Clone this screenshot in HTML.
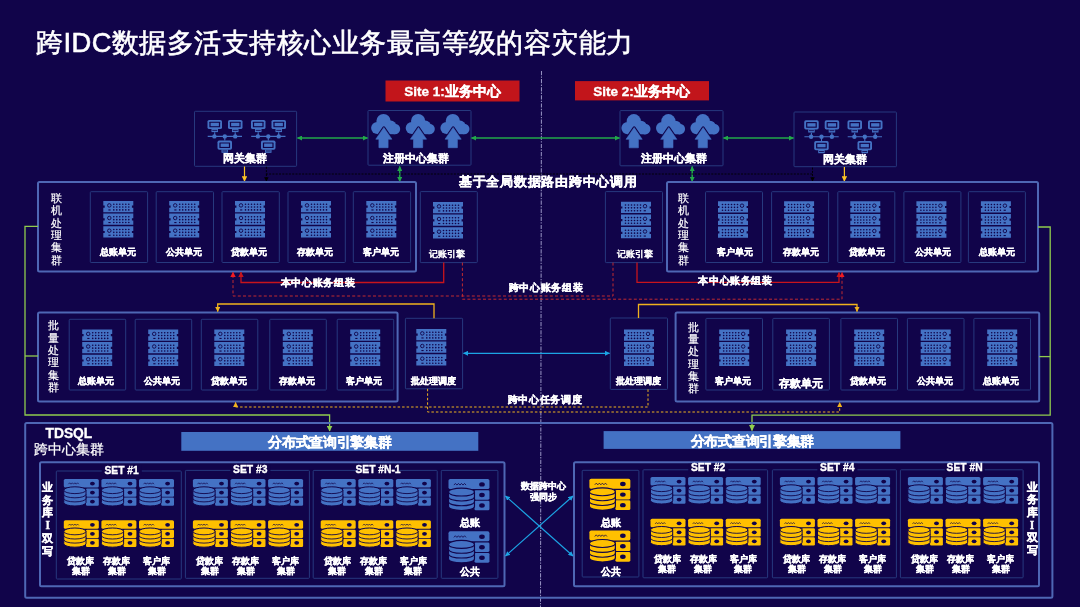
<!DOCTYPE html>
<html><head><meta charset="utf-8"><style>
html,body{margin:0;padding:0;background:#11044a;width:1080px;height:607px;overflow:hidden}
div.w{position:absolute;left:0;top:0;will-change:transform}
svg{display:block;font-family:"Liberation Sans",sans-serif}
</style></head><body><div class="w">
<svg width="1080" height="607" viewBox="0 0 1080 607"><defs><g id="srv"><g transform="translate(0,0)"><path d="M0 0H30V4.6H28.6V6.8H30V11.2H0V6.8H1.4V4.6H0Z" fill="#4472c4"/><circle cx="6" cy="4.4" r="1.75" fill="none" stroke="#11044a" stroke-width="0.9"/><rect x="5.1" y="8.4" width="2.2" height="1.1" fill="#11044a"/><circle cx="10.50" cy="3.20" r="0.8" fill="#11044a"/><circle cx="10.50" cy="6.05" r="0.8" fill="#11044a"/><circle cx="10.50" cy="8.90" r="0.8" fill="#11044a"/><circle cx="13.50" cy="3.20" r="0.8" fill="#11044a"/><circle cx="13.50" cy="6.05" r="0.8" fill="#11044a"/><circle cx="13.50" cy="8.90" r="0.8" fill="#11044a"/><circle cx="16.50" cy="3.20" r="0.8" fill="#11044a"/><circle cx="16.50" cy="6.05" r="0.8" fill="#11044a"/><circle cx="16.50" cy="8.90" r="0.8" fill="#11044a"/><circle cx="19.50" cy="3.20" r="0.8" fill="#11044a"/><circle cx="19.50" cy="6.05" r="0.8" fill="#11044a"/><circle cx="19.50" cy="8.90" r="0.8" fill="#11044a"/><circle cx="22.50" cy="3.20" r="0.8" fill="#11044a"/><circle cx="22.50" cy="6.05" r="0.8" fill="#11044a"/><circle cx="22.50" cy="8.90" r="0.8" fill="#11044a"/><circle cx="25.50" cy="3.20" r="0.8" fill="#11044a"/><circle cx="25.50" cy="6.05" r="0.8" fill="#11044a"/><circle cx="25.50" cy="8.90" r="0.8" fill="#11044a"/></g><g transform="translate(0,12.6)"><path d="M0 0H30V4.6H28.6V6.8H30V11.2H0V6.8H1.4V4.6H0Z" fill="#4472c4"/><circle cx="6" cy="4.4" r="1.75" fill="none" stroke="#11044a" stroke-width="0.9"/><rect x="5.1" y="8.4" width="2.2" height="1.1" fill="#11044a"/><circle cx="10.50" cy="3.20" r="0.8" fill="#11044a"/><circle cx="10.50" cy="6.05" r="0.8" fill="#11044a"/><circle cx="10.50" cy="8.90" r="0.8" fill="#11044a"/><circle cx="13.50" cy="3.20" r="0.8" fill="#11044a"/><circle cx="13.50" cy="6.05" r="0.8" fill="#11044a"/><circle cx="13.50" cy="8.90" r="0.8" fill="#11044a"/><circle cx="16.50" cy="3.20" r="0.8" fill="#11044a"/><circle cx="16.50" cy="6.05" r="0.8" fill="#11044a"/><circle cx="16.50" cy="8.90" r="0.8" fill="#11044a"/><circle cx="19.50" cy="3.20" r="0.8" fill="#11044a"/><circle cx="19.50" cy="6.05" r="0.8" fill="#11044a"/><circle cx="19.50" cy="8.90" r="0.8" fill="#11044a"/><circle cx="22.50" cy="3.20" r="0.8" fill="#11044a"/><circle cx="22.50" cy="6.05" r="0.8" fill="#11044a"/><circle cx="22.50" cy="8.90" r="0.8" fill="#11044a"/><circle cx="25.50" cy="3.20" r="0.8" fill="#11044a"/><circle cx="25.50" cy="6.05" r="0.8" fill="#11044a"/><circle cx="25.50" cy="8.90" r="0.8" fill="#11044a"/></g><g transform="translate(0,25.3)"><path d="M0 0H30V4.6H28.6V6.8H30V11.2H0V6.8H1.4V4.6H0Z" fill="#4472c4"/><circle cx="6" cy="4.4" r="1.75" fill="none" stroke="#11044a" stroke-width="0.9"/><rect x="5.1" y="8.4" width="2.2" height="1.1" fill="#11044a"/><circle cx="10.50" cy="3.20" r="0.8" fill="#11044a"/><circle cx="10.50" cy="6.05" r="0.8" fill="#11044a"/><circle cx="10.50" cy="8.90" r="0.8" fill="#11044a"/><circle cx="13.50" cy="3.20" r="0.8" fill="#11044a"/><circle cx="13.50" cy="6.05" r="0.8" fill="#11044a"/><circle cx="13.50" cy="8.90" r="0.8" fill="#11044a"/><circle cx="16.50" cy="3.20" r="0.8" fill="#11044a"/><circle cx="16.50" cy="6.05" r="0.8" fill="#11044a"/><circle cx="16.50" cy="8.90" r="0.8" fill="#11044a"/><circle cx="19.50" cy="3.20" r="0.8" fill="#11044a"/><circle cx="19.50" cy="6.05" r="0.8" fill="#11044a"/><circle cx="19.50" cy="8.90" r="0.8" fill="#11044a"/><circle cx="22.50" cy="3.20" r="0.8" fill="#11044a"/><circle cx="22.50" cy="6.05" r="0.8" fill="#11044a"/><circle cx="22.50" cy="8.90" r="0.8" fill="#11044a"/><circle cx="25.50" cy="3.20" r="0.8" fill="#11044a"/><circle cx="25.50" cy="6.05" r="0.8" fill="#11044a"/><circle cx="25.50" cy="8.90" r="0.8" fill="#11044a"/></g></g><g id="dbb"><rect x="0" y="0" width="35" height="8.6" rx="1.6" fill="#4472c4"/><rect x="22.2" y="9.6" width="12.8" height="8.1" rx="1.2" fill="#4472c4"/><rect x="22.2" y="18.5" width="12.8" height="8.3" rx="1.2" fill="#4472c4"/><ellipse cx="28.6" cy="4.6" rx="2.4" ry="1.9" fill="#11044a"/><ellipse cx="28.6" cy="13.6" rx="2.4" ry="1.9" fill="#11044a"/><ellipse cx="28.6" cy="22.6" rx="2.4" ry="1.9" fill="#11044a"/><path d="M4.6 5.2l1.3-1.4 1.3 1.4 1.3-1.4 1.3 1.4 1.3-1.4 1.3 1.4 1.3-1.4 1.3 1.4" fill="none" stroke="#11044a" stroke-width="0.7"/><path d="M0 11.2A11.1 3.4 0 0 1 22.2 11.2V23.6A11.1 3.4 0 0 1 0 23.6Z" fill="#4472c4" stroke="#11044a" stroke-width="1"/><path d="M0 11.2A11.1 3.4 0 0 0 22.2 11.2M0 15.4A11.1 3.4 0 0 0 22.2 15.4M0 19.5A11.1 3.4 0 0 0 22.2 19.5" fill="none" stroke="#11044a" stroke-width="0.9"/></g><g id="dby"><rect x="0" y="0" width="35" height="8.6" rx="1.6" fill="#ffc000"/><rect x="22.2" y="9.6" width="12.8" height="8.1" rx="1.2" fill="#ffc000"/><rect x="22.2" y="18.5" width="12.8" height="8.3" rx="1.2" fill="#ffc000"/><ellipse cx="28.6" cy="4.6" rx="2.4" ry="1.9" fill="#11044a"/><ellipse cx="28.6" cy="13.6" rx="2.4" ry="1.9" fill="#11044a"/><ellipse cx="28.6" cy="22.6" rx="2.4" ry="1.9" fill="#11044a"/><path d="M4.6 5.2l1.3-1.4 1.3 1.4 1.3-1.4 1.3 1.4 1.3-1.4 1.3 1.4 1.3-1.4 1.3 1.4" fill="none" stroke="#11044a" stroke-width="0.7"/><path d="M0 11.2A11.1 3.4 0 0 1 22.2 11.2V23.6A11.1 3.4 0 0 1 0 23.6Z" fill="#ffc000" stroke="#11044a" stroke-width="1"/><path d="M0 11.2A11.1 3.4 0 0 0 22.2 11.2M0 15.4A11.1 3.4 0 0 0 22.2 15.4M0 19.5A11.1 3.4 0 0 0 22.2 19.5" fill="none" stroke="#11044a" stroke-width="0.9"/></g><g id="cloud"><circle cx="12.6" cy="7.2" r="7.1" fill="#4472c4"/><circle cx="6.3" cy="14.1" r="6.1" fill="#4472c4"/><circle cx="19.8" cy="12.3" r="5.6" fill="#4472c4"/><circle cx="24" cy="15.1" r="5.3" fill="#4472c4"/><rect x="6.3" y="11" width="17.7" height="9.3" fill="#4472c4"/><path d="M12.95 13.6L21 25.3H17.2V33.8H8V25.3H4.9Z" fill="#4472c4" stroke="#11044a" stroke-width="2.6" stroke-linejoin="round"/><path d="M12.95 13.6L21 25.3H17.2V33.8H8V25.3H4.9Z" fill="#4472c4" stroke="#4472c4" stroke-width="0.6" stroke-linejoin="round"/></g><g id="mon"><rect x="0" y="0" width="14.5" height="9.2" rx="1.7" fill="#4472c4"/><rect x="1.9" y="1.8" width="10.7" height="5.6" rx="0.5" fill="#11044a"/><rect x="3.1" y="2.9" width="8.3" height="3.4" fill="#4472c4"/><rect x="4" y="9" width="6.5" height="3.2" fill="#4472c4"/><rect x="4.8" y="10" width="4.9" height="0.8" fill="#11044a"/></g><g id="net"><use href="#mon" x="0" y="0"/><use href="#mon" x="20.5" y="0"/><use href="#mon" x="10" y="20.7"/><path d="M0.2 16.5H34.5M7.2 12.4V16.5M27.7 12.4V16.5M17.3 16.5V20.7" stroke="#4472c4" stroke-width="1.1"/><circle cx="6.9" cy="16.5" r="2.2" fill="#4472c4"/><circle cx="17.3" cy="16.5" r="2.2" fill="#4472c4"/><circle cx="27.7" cy="16.5" r="2.2" fill="#4472c4"/></g><marker id="mg" viewBox="0 0 10 10" refX="9" refY="5" markerWidth="5" markerHeight="5" markerUnits="userSpaceOnUse" orient="auto-start-reverse"><path d="M0 0L10 5L0 10Z" fill="#22a84a"/></marker><marker id="mr" viewBox="0 0 10 10" refX="9" refY="5" markerWidth="5.5" markerHeight="5.5" markerUnits="userSpaceOnUse" orient="auto-start-reverse"><path d="M0 0L10 5L0 10Z" fill="#c8141c"/></marker><marker id="mrd" viewBox="0 0 10 10" refX="9" refY="5" markerWidth="5.5" markerHeight="5.5" markerUnits="userSpaceOnUse" orient="auto-start-reverse"><path d="M0 0L10 5L0 10Z" fill="#f01c22"/></marker><marker id="my" viewBox="0 0 10 10" refX="9" refY="5" markerWidth="5.5" markerHeight="5.5" markerUnits="userSpaceOnUse" orient="auto-start-reverse"><path d="M0 0L10 5L0 10Z" fill="#f0b21e"/></marker><marker id="my2" viewBox="0 0 10 10" refX="9" refY="5" markerWidth="5.5" markerHeight="5.5" markerUnits="userSpaceOnUse" orient="auto-start-reverse"><path d="M0 0L10 5L0 10Z" fill="#fcc424"/></marker><marker id="mc" viewBox="0 0 10 10" refX="9" refY="5" markerWidth="5" markerHeight="5" markerUnits="userSpaceOnUse" orient="auto-start-reverse"><path d="M0 0L10 5L0 10Z" fill="#1ca4e4"/></marker><marker id="ml" viewBox="0 0 10 10" refX="9" refY="5" markerWidth="6" markerHeight="6" markerUnits="userSpaceOnUse" orient="auto-start-reverse"><path d="M0 0L10 5L0 10Z" fill="#90cc4e"/></marker><marker id="mk" viewBox="0 0 10 10" refX="9" refY="5" markerWidth="4.5" markerHeight="4.5" markerUnits="userSpaceOnUse" orient="auto-start-reverse"><path d="M0 0L10 5L0 10Z" fill="#000000"/></marker></defs>
<rect x="0" y="0" width="1080" height="607" fill="#11044a"/>
<text x="36" y="51.7" font-size="27.3" font-weight="normal" fill="#fff" text-anchor="start" stroke="#fff" stroke-width="0.6" letter-spacing="0.47">跨IDC数据多活支持核心业务最高等级的容灾能力</text>
<line x1="541.5" y1="71" x2="540.5" y2="607" stroke="#9490c0" stroke-width="1.05" stroke-dasharray="4.2 1.2 1.4 1.3"/>
<rect x="385.5" y="80.5" width="134" height="21" fill="#c2151b"/>
<rect x="575" y="81.1" width="134" height="19.3" fill="#c2151b"/>
<text x="452.5" y="96" font-size="13.5" font-weight="bold" fill="#fff" text-anchor="middle" stroke="#fff" stroke-width="0.35" >Site 1:业务中心</text>
<text x="641.5" y="95.5" font-size="13.5" font-weight="bold" fill="#fff" text-anchor="middle" stroke="#fff" stroke-width="0.35" >Site 2:业务中心</text>
<rect x="194.5" y="111.3" width="102.10" height="55.00" rx="0.8" fill="none" stroke="#27397e" stroke-width="1"/>
<rect x="368" y="110.5" width="103.00" height="54.70" rx="0.8" fill="none" stroke="#27397e" stroke-width="1"/>
<rect x="620" y="110.6" width="103.00" height="55.20" rx="0.8" fill="none" stroke="#27397e" stroke-width="1"/>
<rect x="794" y="112" width="102.40" height="54.70" rx="0.8" fill="none" stroke="#27397e" stroke-width="1"/>
<use href="#net" x="207.5" y="119.9"/><use href="#net" x="251" y="119.9"/>
<use href="#net" x="804.2" y="120.3"/><use href="#net" x="847.5" y="120.3"/>
<use href="#cloud" x="370.9" y="113.9"/>
<use href="#cloud" x="405.5" y="113.9"/>
<use href="#cloud" x="440.2" y="113.9"/>
<use href="#cloud" x="621.2" y="114"/>
<use href="#cloud" x="655.8" y="114"/>
<use href="#cloud" x="690.2" y="114"/>
<text x="244.8" y="162.3" font-size="10.6" font-weight="bold" fill="#fff" text-anchor="middle" stroke="#fff" stroke-width="0.35" >网关集群</text>
<text x="415.5" y="162.3" font-size="10.6" font-weight="bold" fill="#fff" text-anchor="middle" stroke="#fff" stroke-width="0.35" >注册中心集群</text>
<text x="674" y="162.3" font-size="10.6" font-weight="bold" fill="#fff" text-anchor="middle" stroke="#fff" stroke-width="0.35" >注册中心集群</text>
<text x="844.7" y="162.5" font-size="10.6" font-weight="bold" fill="#fff" text-anchor="middle" stroke="#fff" stroke-width="0.35" >网关集群</text>
<line x1="297.5" y1="138" x2="367.5" y2="138" stroke="#22a84a" stroke-width="1.5" marker-start="url(#mg)" marker-end="url(#mg)"/>
<line x1="471.5" y1="138" x2="619.5" y2="138" stroke="#22a84a" stroke-width="1.5" marker-start="url(#mg)" marker-end="url(#mg)"/>
<line x1="723.5" y1="138" x2="793.5" y2="138" stroke="#22a84a" stroke-width="1.5" marker-start="url(#mg)" marker-end="url(#mg)"/>
<line x1="399.7" y1="166.5" x2="399.7" y2="181.5" stroke="#22a84a" stroke-width="1.5" marker-start="url(#mg)" marker-end="url(#mg)"/>
<line x1="692.2" y1="166.5" x2="692.2" y2="181.5" stroke="#22a84a" stroke-width="1.5" marker-start="url(#mg)" marker-end="url(#mg)"/>
<path d="M266.4 166.8V174H812.5V167" fill="none" stroke="#000" stroke-width="0.9" stroke-dasharray="2 1.3"/>
<line x1="266.4" y1="174" x2="266.4" y2="181.3" stroke="#000" stroke-width="0.9" stroke-dasharray="2 1.3" marker-end="url(#mk)"/>
<line x1="812.5" y1="174" x2="812.5" y2="181.3" stroke="#000" stroke-width="0.9" stroke-dasharray="2 1.3" marker-end="url(#mk)"/>
<line x1="244.5" y1="166.5" x2="244.5" y2="181.2" stroke="#fcc424" stroke-width="1.2" marker-end="url(#my2)"/>
<line x1="844.4" y1="167" x2="844.4" y2="181.2" stroke="#fcc424" stroke-width="1.2" marker-end="url(#my2)"/>
<text x="548.3" y="185.6" font-size="13.4" font-weight="bold" fill="#fff" text-anchor="middle" stroke="#fff" stroke-width="0.35" letter-spacing="0.77">基于全局数据路由跨中心调用</text>
<rect x="38" y="182" width="378.00" height="89.50" rx="1.5" fill="none" stroke="#4e67b4" stroke-width="2"/>
<rect x="667" y="182" width="371.00" height="89.40" rx="1.5" fill="none" stroke="#4e67b4" stroke-width="2"/>
<text x="56" y="202.0" font-size="10.5" font-weight="normal" fill="#fff" text-anchor="middle" stroke="#fff" stroke-width="0.2" >联</text>
<text x="56" y="214.3" font-size="10.5" font-weight="normal" fill="#fff" text-anchor="middle" stroke="#fff" stroke-width="0.2" >机</text>
<text x="56" y="226.6" font-size="10.5" font-weight="normal" fill="#fff" text-anchor="middle" stroke="#fff" stroke-width="0.2" >处</text>
<text x="56" y="238.9" font-size="10.5" font-weight="normal" fill="#fff" text-anchor="middle" stroke="#fff" stroke-width="0.2" >理</text>
<text x="56" y="251.2" font-size="10.5" font-weight="normal" fill="#fff" text-anchor="middle" stroke="#fff" stroke-width="0.2" >集</text>
<text x="56" y="263.5" font-size="10.5" font-weight="normal" fill="#fff" text-anchor="middle" stroke="#fff" stroke-width="0.2" >群</text>
<text x="683.3" y="202.0" font-size="10.5" font-weight="normal" fill="#fff" text-anchor="middle" stroke="#fff" stroke-width="0.2" >联</text>
<text x="683.3" y="214.3" font-size="10.5" font-weight="normal" fill="#fff" text-anchor="middle" stroke="#fff" stroke-width="0.2" >机</text>
<text x="683.3" y="226.6" font-size="10.5" font-weight="normal" fill="#fff" text-anchor="middle" stroke="#fff" stroke-width="0.2" >处</text>
<text x="683.3" y="238.9" font-size="10.5" font-weight="normal" fill="#fff" text-anchor="middle" stroke="#fff" stroke-width="0.2" >理</text>
<text x="683.3" y="251.2" font-size="10.5" font-weight="normal" fill="#fff" text-anchor="middle" stroke="#fff" stroke-width="0.2" >集</text>
<text x="683.3" y="263.5" font-size="10.5" font-weight="normal" fill="#fff" text-anchor="middle" stroke="#fff" stroke-width="0.2" >群</text>
<rect x="90.3" y="191.7" width="57.30" height="70.80" rx="0.8" fill="none" stroke="#27397e" stroke-width="1"/>
<use href="#srv" x="103.3" y="201"/>
<text x="117.69999999999999" y="255.2" font-size="9.3" font-weight="bold" fill="#fff" text-anchor="middle" stroke="#fff" stroke-width="0.35" >总账单元</text>
<rect x="156.2" y="191.7" width="57.30" height="70.80" rx="0.8" fill="none" stroke="#27397e" stroke-width="1"/>
<use href="#srv" x="169.2" y="201"/>
<text x="183.6" y="255.2" font-size="9.3" font-weight="bold" fill="#fff" text-anchor="middle" stroke="#fff" stroke-width="0.35" >公共单元</text>
<rect x="222" y="191.7" width="57.30" height="70.80" rx="0.8" fill="none" stroke="#27397e" stroke-width="1"/>
<use href="#srv" x="235" y="201"/>
<text x="249.4" y="255.2" font-size="9.3" font-weight="bold" fill="#fff" text-anchor="middle" stroke="#fff" stroke-width="0.35" >贷款单元</text>
<rect x="288" y="191.7" width="57.30" height="70.80" rx="0.8" fill="none" stroke="#27397e" stroke-width="1"/>
<use href="#srv" x="301" y="201"/>
<text x="315.4" y="255.2" font-size="9.3" font-weight="bold" fill="#fff" text-anchor="middle" stroke="#fff" stroke-width="0.35" >存款单元</text>
<rect x="353.3" y="191.7" width="57.30" height="70.80" rx="0.8" fill="none" stroke="#27397e" stroke-width="1"/>
<use href="#srv" x="366.3" y="201"/>
<text x="380.7" y="255.2" font-size="9.3" font-weight="bold" fill="#fff" text-anchor="middle" stroke="#fff" stroke-width="0.35" >客户单元</text>
<rect x="705.5" y="191.7" width="57.00" height="70.80" rx="0.8" fill="none" stroke="#27397e" stroke-width="1"/>
<use href="#srv" transform="translate(748.0,201.3) scale(-1,1)"/>
<text x="734.5" y="255.2" font-size="9.3" font-weight="bold" fill="#fff" text-anchor="middle" stroke="#fff" stroke-width="0.35" >客户单元</text>
<rect x="771.6" y="191.7" width="57.00" height="70.80" rx="0.8" fill="none" stroke="#27397e" stroke-width="1"/>
<use href="#srv" transform="translate(814.1,201.3) scale(-1,1)"/>
<text x="800.6" y="255.2" font-size="9.3" font-weight="bold" fill="#fff" text-anchor="middle" stroke="#fff" stroke-width="0.35" >存款单元</text>
<rect x="837.8" y="191.7" width="57.00" height="70.80" rx="0.8" fill="none" stroke="#27397e" stroke-width="1"/>
<use href="#srv" transform="translate(880.3,201.3) scale(-1,1)"/>
<text x="866.8" y="255.2" font-size="9.3" font-weight="bold" fill="#fff" text-anchor="middle" stroke="#fff" stroke-width="0.35" >贷款单元</text>
<rect x="903.9" y="191.7" width="57.00" height="70.80" rx="0.8" fill="none" stroke="#27397e" stroke-width="1"/>
<use href="#srv" transform="translate(946.4,201.3) scale(-1,1)"/>
<text x="932.9" y="255.2" font-size="9.3" font-weight="bold" fill="#fff" text-anchor="middle" stroke="#fff" stroke-width="0.35" >公共单元</text>
<rect x="968.4" y="191.7" width="57.00" height="70.80" rx="0.8" fill="none" stroke="#27397e" stroke-width="1"/>
<use href="#srv" transform="translate(1010.9,201.3) scale(-1,1)"/>
<text x="997.4" y="255.2" font-size="9.3" font-weight="bold" fill="#fff" text-anchor="middle" stroke="#fff" stroke-width="0.35" >总账单元</text>
<rect x="420.3" y="191.6" width="57.00" height="71.00" rx="0.8" fill="none" stroke="#27397e" stroke-width="1"/>
<use href="#srv" x="433" y="202"/>
<text x="446.6" y="257.1" font-size="9.3" font-weight="normal" fill="#fff" text-anchor="middle" stroke="#fff" stroke-width="0.5" >记账引擎</text>
<rect x="605.4" y="191.6" width="57.10" height="71.00" rx="0.8" fill="none" stroke="#27397e" stroke-width="1"/>
<use href="#srv" transform="translate(651,201.8) scale(-1,1)"/>
<text x="635" y="256.6" font-size="9.3" font-weight="normal" fill="#fff" text-anchor="middle" stroke="#fff" stroke-width="0.5" >记账引擎</text>
<path d="M443.7 262.6V282.5H241V272.2" fill="none" stroke="#c8141c" stroke-width="1.3" marker-end="url(#mr)"/>
<path d="M637 262.6V282.3H839V272.5" fill="none" stroke="#c8141c" stroke-width="1.3" marker-end="url(#mr)"/>
<path d="M462.4 262.6V299.2H842V272.5" fill="none" stroke="#c02a30" stroke-width="1" stroke-dasharray="3 2.2" marker-end="url(#mrd)"/>
<path d="M613 262.6V296H233V272.2" fill="none" stroke="#c02a30" stroke-width="1" stroke-dasharray="3 2.2" marker-end="url(#mrd)"/>
<text x="318" y="285.8" font-size="10.4" font-weight="bold" fill="#fff" text-anchor="middle" stroke="#fff" stroke-width="0.35" letter-spacing="0.65">本中心账务组装</text>
<text x="735.5" y="283.8" font-size="10.4" font-weight="bold" fill="#fff" text-anchor="middle" stroke="#fff" stroke-width="0.35" letter-spacing="0.65">本中心账务组装</text>
<text x="546" y="290.8" font-size="10.4" font-weight="bold" fill="#fff" text-anchor="middle" stroke="#fff" stroke-width="0.35" letter-spacing="0.65">跨中心账务组装</text>
<rect x="38" y="312.6" width="359.60" height="88.90" rx="1.5" fill="none" stroke="#4e67b4" stroke-width="2"/>
<rect x="675.6" y="312.6" width="363.60" height="89.00" rx="1.5" fill="none" stroke="#4e67b4" stroke-width="2"/>
<text x="53" y="329.3" font-size="10.5" font-weight="normal" fill="#fff" text-anchor="middle" stroke="#fff" stroke-width="0.2" >批</text>
<text x="53" y="341.6" font-size="10.5" font-weight="normal" fill="#fff" text-anchor="middle" stroke="#fff" stroke-width="0.2" >量</text>
<text x="53" y="353.90000000000003" font-size="10.5" font-weight="normal" fill="#fff" text-anchor="middle" stroke="#fff" stroke-width="0.2" >处</text>
<text x="53" y="366.20000000000005" font-size="10.5" font-weight="normal" fill="#fff" text-anchor="middle" stroke="#fff" stroke-width="0.2" >理</text>
<text x="53" y="378.5" font-size="10.5" font-weight="normal" fill="#fff" text-anchor="middle" stroke="#fff" stroke-width="0.2" >集</text>
<text x="53" y="390.8" font-size="10.5" font-weight="normal" fill="#fff" text-anchor="middle" stroke="#fff" stroke-width="0.2" >群</text>
<text x="693.8" y="330.8" font-size="10.5" font-weight="normal" fill="#fff" text-anchor="middle" stroke="#fff" stroke-width="0.2" >批</text>
<text x="693.8" y="343.1" font-size="10.5" font-weight="normal" fill="#fff" text-anchor="middle" stroke="#fff" stroke-width="0.2" >量</text>
<text x="693.8" y="355.40000000000003" font-size="10.5" font-weight="normal" fill="#fff" text-anchor="middle" stroke="#fff" stroke-width="0.2" >处</text>
<text x="693.8" y="367.70000000000005" font-size="10.5" font-weight="normal" fill="#fff" text-anchor="middle" stroke="#fff" stroke-width="0.2" >理</text>
<text x="693.8" y="380.0" font-size="10.5" font-weight="normal" fill="#fff" text-anchor="middle" stroke="#fff" stroke-width="0.2" >集</text>
<text x="693.8" y="392.3" font-size="10.5" font-weight="normal" fill="#fff" text-anchor="middle" stroke="#fff" stroke-width="0.2" >群</text>
<rect x="69.2" y="319.3" width="56.50" height="70.70" rx="0.8" fill="none" stroke="#27397e" stroke-width="1"/>
<use href="#srv" x="82.2" y="329.5"/>
<text x="96.4" y="384.3" font-size="9.3" font-weight="bold" fill="#fff" text-anchor="middle" stroke="#fff" stroke-width="0.35" >总账单元</text>
<rect x="135.2" y="319.3" width="56.50" height="70.70" rx="0.8" fill="none" stroke="#27397e" stroke-width="1"/>
<use href="#srv" x="148.2" y="329.5"/>
<text x="162.39999999999998" y="384.3" font-size="9.3" font-weight="bold" fill="#fff" text-anchor="middle" stroke="#fff" stroke-width="0.35" >公共单元</text>
<rect x="201.3" y="319.3" width="56.50" height="70.70" rx="0.8" fill="none" stroke="#27397e" stroke-width="1"/>
<use href="#srv" x="214.3" y="329.5"/>
<text x="228.5" y="384.3" font-size="9.3" font-weight="bold" fill="#fff" text-anchor="middle" stroke="#fff" stroke-width="0.35" >贷款单元</text>
<rect x="269.8" y="319.3" width="56.50" height="70.70" rx="0.8" fill="none" stroke="#27397e" stroke-width="1"/>
<use href="#srv" x="282.8" y="329.5"/>
<text x="297.0" y="384.3" font-size="9.3" font-weight="bold" fill="#fff" text-anchor="middle" stroke="#fff" stroke-width="0.35" >存款单元</text>
<rect x="337.2" y="319.3" width="56.50" height="70.70" rx="0.8" fill="none" stroke="#27397e" stroke-width="1"/>
<use href="#srv" x="350.2" y="329.5"/>
<text x="364.4" y="384.3" font-size="9.3" font-weight="bold" fill="#fff" text-anchor="middle" stroke="#fff" stroke-width="0.35" >客户单元</text>
<rect x="705.9" y="318.4" width="56.60" height="71.60" rx="0.8" fill="none" stroke="#27397e" stroke-width="1"/>
<use href="#srv" transform="translate(749.1999999999999,329.5) scale(-1,1)"/>
<text x="733.1999999999999" y="384.3" font-size="9.3" font-weight="bold" fill="#fff" text-anchor="middle" stroke="#fff" stroke-width="0.35" >客户单元</text>
<rect x="772.8" y="318.4" width="56.60" height="71.60" rx="0.8" fill="none" stroke="#27397e" stroke-width="1"/>
<use href="#srv" transform="translate(816.0999999999999,329.5) scale(-1,1)"/>
<text x="800.5999999999999" y="386.8" font-size="10.6" font-weight="bold" fill="#fff" text-anchor="middle" stroke="#fff" stroke-width="0.35" >存款单元</text>
<rect x="840.9" y="318.4" width="56.60" height="71.60" rx="0.8" fill="none" stroke="#27397e" stroke-width="1"/>
<use href="#srv" transform="translate(884.1999999999999,329.5) scale(-1,1)"/>
<text x="868.1999999999999" y="384.3" font-size="9.3" font-weight="bold" fill="#fff" text-anchor="middle" stroke="#fff" stroke-width="0.35" >贷款单元</text>
<rect x="907.4" y="318.4" width="56.60" height="71.60" rx="0.8" fill="none" stroke="#27397e" stroke-width="1"/>
<use href="#srv" transform="translate(950.6999999999999,329.5) scale(-1,1)"/>
<text x="934.6999999999999" y="384.3" font-size="9.3" font-weight="bold" fill="#fff" text-anchor="middle" stroke="#fff" stroke-width="0.35" >公共单元</text>
<rect x="973.9" y="318.4" width="56.60" height="71.60" rx="0.8" fill="none" stroke="#27397e" stroke-width="1"/>
<use href="#srv" transform="translate(1017.1999999999999,329.5) scale(-1,1)"/>
<text x="1001.1999999999999" y="384.3" font-size="9.3" font-weight="bold" fill="#fff" text-anchor="middle" stroke="#fff" stroke-width="0.35" >总账单元</text>
<rect x="405.4" y="318.3" width="57.20" height="70.50" rx="0.8" fill="none" stroke="#27397e" stroke-width="1"/>
<use href="#srv" x="416.3" y="329"/>
<text x="433" y="384" font-size="9.3" font-weight="bold" fill="#fff" text-anchor="middle" stroke="#fff" stroke-width="0.35" >批处理调度</text>
<rect x="610.3" y="318" width="57.20" height="71.40" rx="0.8" fill="none" stroke="#27397e" stroke-width="1"/>
<use href="#srv" transform="translate(654,329.5) scale(-1,1)"/>
<text x="638" y="384.3" font-size="9.3" font-weight="bold" fill="#fff" text-anchor="middle" stroke="#fff" stroke-width="0.35" >批处理调度</text>
<line x1="463.5" y1="353.3" x2="609.5" y2="353.3" stroke="#1ca4e4" stroke-width="1.2" marker-start="url(#mc)" marker-end="url(#mc)"/>
<path d="M434 318.3V304H217.7V311.5" fill="none" stroke="#f0b21e" stroke-width="1.3" marker-end="url(#my)"/>
<path d="M638.5 318V304.5H857V311.5" fill="none" stroke="#f0b21e" stroke-width="1.3" marker-end="url(#my)"/>
<path d="M427.6 388.8V412H839.7V402.5" fill="none" stroke="#f0b21e" stroke-width="1" stroke-dasharray="2.5 2" marker-end="url(#my)"/>
<path d="M648 389.4V407H235.6V402.5" fill="none" stroke="#f0b21e" stroke-width="1" stroke-dasharray="2.5 2" marker-end="url(#my)"/>
<text x="545" y="402.5" font-size="10.4" font-weight="bold" fill="#fff" text-anchor="middle" stroke="#fff" stroke-width="0.35" letter-spacing="0.65">跨中心任务调度</text>
<path d="M38 226.3H25V415H329.6V431" fill="none" stroke="#90cc4e" stroke-width="1.3" marker-end="url(#ml)"/>
<path d="M38 356H25" fill="none" stroke="#90cc4e" stroke-width="1.3"/>
<path d="M1038 227H1050.2V415.2H752V430.5" fill="none" stroke="#90cc4e" stroke-width="1.3" marker-end="url(#ml)"/>
<path d="M1039.2 356.6H1050.2" fill="none" stroke="#90cc4e" stroke-width="1.3"/>
<rect x="25.2" y="423" width="1027.20" height="174.80" rx="1.5" fill="none" stroke="#4e67b4" stroke-width="2"/>
<text x="45.5" y="437.6" font-size="13.8" font-weight="bold" fill="#fff" text-anchor="start" stroke="#fff" stroke-width="0.35" >TDSQL</text>
<text x="34.3" y="453.5" font-size="13.9" font-weight="normal" fill="#fff" text-anchor="start" stroke="#fff" stroke-width="0.25" >跨中心集群</text>
<rect x="181.3" y="432" width="297" height="18.8" fill="#4472c4"/>
<rect x="603.6" y="431.1" width="296.8" height="17.8" fill="#4472c4"/>
<text x="329.9" y="446.7" font-size="13.5" font-weight="bold" fill="#fff" text-anchor="middle" stroke="#fff" stroke-width="0.35" letter-spacing="-0.28">分布式查询引擎集群</text>
<text x="752.4" y="445.6" font-size="13.5" font-weight="bold" fill="#fff" text-anchor="middle" stroke="#fff" stroke-width="0.35" letter-spacing="-0.28">分布式查询引擎集群</text>
<rect x="40" y="462.3" width="464.50" height="124.00" rx="1.5" fill="none" stroke="#4e67b4" stroke-width="2"/>
<rect x="574" y="462.2" width="465.00" height="124.00" rx="1.5" fill="none" stroke="#4e67b4" stroke-width="2"/>
<text x="47.8" y="491.0" font-size="11" font-weight="bold" fill="#fff" text-anchor="middle" stroke="#fff" stroke-width="0.35" >业</text>
<text x="47.8" y="503.7" font-size="11" font-weight="bold" fill="#fff" text-anchor="middle" stroke="#fff" stroke-width="0.35" >务</text>
<text x="47.8" y="516.4" font-size="11" font-weight="bold" fill="#fff" text-anchor="middle" stroke="#fff" stroke-width="0.35" >库</text>
<text x="47.8" y="529.1" font-size="11.55" font-weight="bold" fill="#fff" text-anchor="middle" stroke="#fff" stroke-width="0.35" font-family="Liberation Serif">I</text>
<text x="47.8" y="541.8" font-size="11" font-weight="bold" fill="#fff" text-anchor="middle" stroke="#fff" stroke-width="0.35" >双</text>
<text x="47.8" y="554.5" font-size="11" font-weight="bold" fill="#fff" text-anchor="middle" stroke="#fff" stroke-width="0.35" >写</text>
<text x="1032" y="490.5" font-size="11" font-weight="bold" fill="#fff" text-anchor="middle" stroke="#fff" stroke-width="0.35" >业</text>
<text x="1032" y="503.2" font-size="11" font-weight="bold" fill="#fff" text-anchor="middle" stroke="#fff" stroke-width="0.35" >务</text>
<text x="1032" y="515.9" font-size="11" font-weight="bold" fill="#fff" text-anchor="middle" stroke="#fff" stroke-width="0.35" >库</text>
<text x="1032" y="528.6" font-size="11.55" font-weight="bold" fill="#fff" text-anchor="middle" stroke="#fff" stroke-width="0.35" font-family="Liberation Serif">I</text>
<text x="1032" y="541.3" font-size="11" font-weight="bold" fill="#fff" text-anchor="middle" stroke="#fff" stroke-width="0.35" >双</text>
<text x="1032" y="554.0" font-size="11" font-weight="bold" fill="#fff" text-anchor="middle" stroke="#fff" stroke-width="0.35" >写</text>
<rect x="56.3" y="471" width="125.00" height="108.00" rx="0.8" fill="none" stroke="#27397e" stroke-width="1"/>
<rect x="101.80000000000001" y="465" width="40" height="10" fill="#11044a"/>
<text x="121.60000000000001" y="474" font-size="10.3" font-weight="bold" fill="#fff" text-anchor="middle" stroke="#fff" stroke-width="0.35" >SET #1</text>
<use href="#dbb" x="63.8" y="479"/>
<use href="#dby" x="63.8" y="520.2"/>
<text x="80.5" y="564" font-size="9.1" font-weight="bold" fill="#fff" text-anchor="middle" stroke="#fff" stroke-width="0.35" >贷款库</text>
<text x="80.5" y="574" font-size="9.1" font-weight="bold" fill="#fff" text-anchor="middle" stroke="#fff" stroke-width="0.35" >集群</text>
<use href="#dbb" x="101.4" y="479"/>
<use href="#dby" x="101.4" y="520.2"/>
<text x="116.7" y="564" font-size="9.1" font-weight="bold" fill="#fff" text-anchor="middle" stroke="#fff" stroke-width="0.35" >存款库</text>
<text x="116.7" y="574" font-size="9.1" font-weight="bold" fill="#fff" text-anchor="middle" stroke="#fff" stroke-width="0.35" >集群</text>
<use href="#dbb" x="139.0" y="479"/>
<use href="#dby" x="139.0" y="520.2"/>
<text x="156.5" y="564" font-size="9.1" font-weight="bold" fill="#fff" text-anchor="middle" stroke="#fff" stroke-width="0.35" >客户库</text>
<text x="156.5" y="574" font-size="9.1" font-weight="bold" fill="#fff" text-anchor="middle" stroke="#fff" stroke-width="0.35" >集群</text>
<rect x="185.4" y="470.4" width="124.00" height="107.90" rx="0.8" fill="none" stroke="#27397e" stroke-width="1"/>
<rect x="230.39999999999998" y="464.4" width="40" height="10" fill="#11044a"/>
<text x="250.2" y="473.4" font-size="10.3" font-weight="bold" fill="#fff" text-anchor="middle" stroke="#fff" stroke-width="0.35" >SET #3</text>
<use href="#dbb" x="192.9" y="479"/>
<use href="#dby" x="192.9" y="520.2"/>
<text x="209.6" y="564" font-size="9.1" font-weight="bold" fill="#fff" text-anchor="middle" stroke="#fff" stroke-width="0.35" >贷款库</text>
<text x="209.6" y="574" font-size="9.1" font-weight="bold" fill="#fff" text-anchor="middle" stroke="#fff" stroke-width="0.35" >集群</text>
<use href="#dbb" x="230.5" y="479"/>
<use href="#dby" x="230.5" y="520.2"/>
<text x="245.8" y="564" font-size="9.1" font-weight="bold" fill="#fff" text-anchor="middle" stroke="#fff" stroke-width="0.35" >存款库</text>
<text x="245.8" y="574" font-size="9.1" font-weight="bold" fill="#fff" text-anchor="middle" stroke="#fff" stroke-width="0.35" >集群</text>
<use href="#dbb" x="268.1" y="479"/>
<use href="#dby" x="268.1" y="520.2"/>
<text x="285.6" y="564" font-size="9.1" font-weight="bold" fill="#fff" text-anchor="middle" stroke="#fff" stroke-width="0.35" >客户库</text>
<text x="285.6" y="574" font-size="9.1" font-weight="bold" fill="#fff" text-anchor="middle" stroke="#fff" stroke-width="0.35" >集群</text>
<rect x="313.2" y="470.4" width="124.00" height="107.90" rx="0.8" fill="none" stroke="#27397e" stroke-width="1"/>
<rect x="358.2" y="464.4" width="40" height="10" fill="#11044a"/>
<text x="378.0" y="473.4" font-size="10.3" font-weight="bold" fill="#fff" text-anchor="middle" stroke="#fff" stroke-width="0.35" >SET #N-1</text>
<use href="#dbb" x="320.7" y="479"/>
<use href="#dby" x="320.7" y="520.2"/>
<text x="337.4" y="564" font-size="9.1" font-weight="bold" fill="#fff" text-anchor="middle" stroke="#fff" stroke-width="0.35" >贷款库</text>
<text x="337.4" y="574" font-size="9.1" font-weight="bold" fill="#fff" text-anchor="middle" stroke="#fff" stroke-width="0.35" >集群</text>
<use href="#dbb" x="358.3" y="479"/>
<use href="#dby" x="358.3" y="520.2"/>
<text x="373.6" y="564" font-size="9.1" font-weight="bold" fill="#fff" text-anchor="middle" stroke="#fff" stroke-width="0.35" >存款库</text>
<text x="373.6" y="574" font-size="9.1" font-weight="bold" fill="#fff" text-anchor="middle" stroke="#fff" stroke-width="0.35" >集群</text>
<use href="#dbb" x="395.9" y="479"/>
<use href="#dby" x="395.9" y="520.2"/>
<text x="413.4" y="564" font-size="9.1" font-weight="bold" fill="#fff" text-anchor="middle" stroke="#fff" stroke-width="0.35" >客户库</text>
<text x="413.4" y="574" font-size="9.1" font-weight="bold" fill="#fff" text-anchor="middle" stroke="#fff" stroke-width="0.35" >集群</text>
<rect x="441.3" y="470.4" width="56.60" height="107.90" rx="0.8" fill="none" stroke="#27397e" stroke-width="1"/>
<use href="#dbb" transform="translate(448.5,479) scale(1.17)"/>
<use href="#dbb" transform="translate(448.5,531.3) scale(1.17)"/>
<text x="469.8" y="525.5" font-size="10" font-weight="bold" fill="#fff" text-anchor="middle" stroke="#fff" stroke-width="0.35" >总账</text>
<text x="469.8" y="574.5" font-size="10" font-weight="bold" fill="#fff" text-anchor="middle" stroke="#fff" stroke-width="0.35" >公共</text>
<rect x="643" y="469.8" width="124.60" height="108.00" rx="0.8" fill="none" stroke="#27397e" stroke-width="1"/>
<rect x="688.3" y="463.8" width="40" height="10" fill="#11044a"/>
<text x="708.0999999999999" y="471.0" font-size="10.3" font-weight="bold" fill="#fff" text-anchor="middle" stroke="#fff" stroke-width="0.35" >SET #2</text>
<use href="#dbb" x="650.5" y="477"/>
<use href="#dby" x="650.5" y="518.7"/>
<text x="667.2" y="562.3" font-size="9.1" font-weight="bold" fill="#fff" text-anchor="middle" stroke="#fff" stroke-width="0.35" >贷款库</text>
<text x="667.2" y="572.3" font-size="9.1" font-weight="bold" fill="#fff" text-anchor="middle" stroke="#fff" stroke-width="0.35" >集群</text>
<use href="#dbb" x="688.1" y="477"/>
<use href="#dby" x="688.1" y="518.7"/>
<text x="703.4" y="562.3" font-size="9.1" font-weight="bold" fill="#fff" text-anchor="middle" stroke="#fff" stroke-width="0.35" >存款库</text>
<text x="703.4" y="572.3" font-size="9.1" font-weight="bold" fill="#fff" text-anchor="middle" stroke="#fff" stroke-width="0.35" >集群</text>
<use href="#dbb" x="725.7" y="477"/>
<use href="#dby" x="725.7" y="518.7"/>
<text x="743.2" y="562.3" font-size="9.1" font-weight="bold" fill="#fff" text-anchor="middle" stroke="#fff" stroke-width="0.35" >客户库</text>
<text x="743.2" y="572.3" font-size="9.1" font-weight="bold" fill="#fff" text-anchor="middle" stroke="#fff" stroke-width="0.35" >集群</text>
<rect x="772.4" y="469.8" width="124.00" height="108.00" rx="0.8" fill="none" stroke="#27397e" stroke-width="1"/>
<rect x="817.4" y="463.8" width="40" height="10" fill="#11044a"/>
<text x="837.1999999999999" y="471.0" font-size="10.3" font-weight="bold" fill="#fff" text-anchor="middle" stroke="#fff" stroke-width="0.35" >SET #4</text>
<use href="#dbb" x="779.9" y="477"/>
<use href="#dby" x="779.9" y="518.7"/>
<text x="796.6" y="562.3" font-size="9.1" font-weight="bold" fill="#fff" text-anchor="middle" stroke="#fff" stroke-width="0.35" >贷款库</text>
<text x="796.6" y="572.3" font-size="9.1" font-weight="bold" fill="#fff" text-anchor="middle" stroke="#fff" stroke-width="0.35" >集群</text>
<use href="#dbb" x="817.5" y="477"/>
<use href="#dby" x="817.5" y="518.7"/>
<text x="832.8" y="562.3" font-size="9.1" font-weight="bold" fill="#fff" text-anchor="middle" stroke="#fff" stroke-width="0.35" >存款库</text>
<text x="832.8" y="572.3" font-size="9.1" font-weight="bold" fill="#fff" text-anchor="middle" stroke="#fff" stroke-width="0.35" >集群</text>
<use href="#dbb" x="855.1" y="477"/>
<use href="#dby" x="855.1" y="518.7"/>
<text x="872.6" y="562.3" font-size="9.1" font-weight="bold" fill="#fff" text-anchor="middle" stroke="#fff" stroke-width="0.35" >客户库</text>
<text x="872.6" y="572.3" font-size="9.1" font-weight="bold" fill="#fff" text-anchor="middle" stroke="#fff" stroke-width="0.35" >集群</text>
<rect x="900.4" y="469.8" width="122.70" height="108.00" rx="0.8" fill="none" stroke="#27397e" stroke-width="1"/>
<rect x="944.75" y="463.8" width="40" height="10" fill="#11044a"/>
<text x="964.55" y="471.0" font-size="10.3" font-weight="bold" fill="#fff" text-anchor="middle" stroke="#fff" stroke-width="0.35" >SET #N</text>
<use href="#dbb" x="907.9" y="477"/>
<use href="#dby" x="907.9" y="518.7"/>
<text x="924.6" y="562.3" font-size="9.1" font-weight="bold" fill="#fff" text-anchor="middle" stroke="#fff" stroke-width="0.35" >贷款库</text>
<text x="924.6" y="572.3" font-size="9.1" font-weight="bold" fill="#fff" text-anchor="middle" stroke="#fff" stroke-width="0.35" >集群</text>
<use href="#dbb" x="945.5" y="477"/>
<use href="#dby" x="945.5" y="518.7"/>
<text x="960.8" y="562.3" font-size="9.1" font-weight="bold" fill="#fff" text-anchor="middle" stroke="#fff" stroke-width="0.35" >存款库</text>
<text x="960.8" y="572.3" font-size="9.1" font-weight="bold" fill="#fff" text-anchor="middle" stroke="#fff" stroke-width="0.35" >集群</text>
<use href="#dbb" x="983.1" y="477"/>
<use href="#dby" x="983.1" y="518.7"/>
<text x="1000.6" y="562.3" font-size="9.1" font-weight="bold" fill="#fff" text-anchor="middle" stroke="#fff" stroke-width="0.35" >客户库</text>
<text x="1000.6" y="572.3" font-size="9.1" font-weight="bold" fill="#fff" text-anchor="middle" stroke="#fff" stroke-width="0.35" >集群</text>
<rect x="582.2" y="470.3" width="56.70" height="106.70" rx="0.8" fill="none" stroke="#27397e" stroke-width="1"/>
<use href="#dby" transform="translate(589.4,478.7) scale(1.17)"/>
<use href="#dby" transform="translate(589.4,530.4) scale(1.17)"/>
<text x="611" y="525.5" font-size="10" font-weight="bold" fill="#fff" text-anchor="middle" stroke="#fff" stroke-width="0.35" >总账</text>
<text x="611" y="574.5" font-size="10" font-weight="bold" fill="#fff" text-anchor="middle" stroke="#fff" stroke-width="0.35" >公共</text>
<line x1="505.5" y1="496" x2="573" y2="556" stroke="#1ca4e4" stroke-width="1.2" marker-start="url(#mc)" marker-end="url(#mc)"/>
<line x1="505.5" y1="556" x2="573" y2="496" stroke="#1ca4e4" stroke-width="1.2" marker-start="url(#mc)" marker-end="url(#mc)"/>
<text x="543" y="489.2" font-size="9.1" font-weight="bold" fill="#fff" text-anchor="middle" stroke="#fff" stroke-width="0.35" >数据跨中心</text>
<text x="543" y="500" font-size="9.1" font-weight="bold" fill="#fff" text-anchor="middle" stroke="#fff" stroke-width="0.35" >强同步</text></svg>
</div></body></html>
